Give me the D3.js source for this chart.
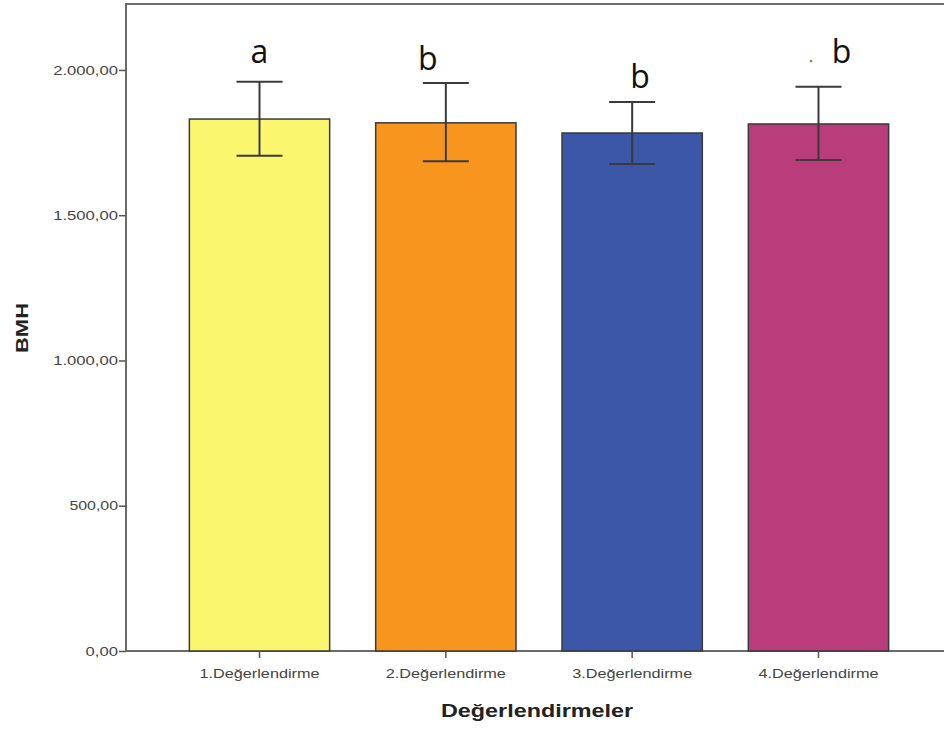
<!DOCTYPE html>
<html><head><meta charset="utf-8">
<script src="https://cdn.jsdelivr.net/npm/d3@7"></script>
<style>body{margin:0;background:#fff}svg{display:block}</style>
</head><body>
<script>
const categories = ["1.Değerlendirme","2.Değerlendirme","3.Değerlendirme","4.Değerlendirme"];
const means = [1831, 1818, 1783, 1814];
const errLow = [1705, 1686, 1676, 1690];
const errHigh = [1959, 1955, 1890, 1942];
const letters = ["a","b","b","b"];
const colors = ["#FAF66E","#F7951E","#3C56A8","#B93D7B"];
const yTicks = [0,500,1000,1500,2000];

(function(){
const W=944,H=731;
const svg=d3.select("body").append("svg").attr("width",W).attr("height",H);
const pLeft=126, pTop=4, pBottom=651;
const y=d3.scaleLinear().domain([0,2227]).range([pBottom,pTop]);
const x=d3.scaleBand().domain(categories).range([167,911]).paddingInner(0.247).paddingOuter(0.12);
const ff="Liberation Sans, Arial, sans-serif";

// frame
svg.append("path").attr("d",`M${pLeft},${pBottom}V${pTop}H${W+5}`).attr("fill","none").attr("stroke","#6b6b6b").attr("stroke-width",2);
svg.append("line").attr("x1",pLeft).attr("x2",W+5).attr("y1",pBottom).attr("y2",pBottom).attr("stroke","#6b6b6b").attr("stroke-width",2);

// y axis
const fmt=v=>d3.format(",.2f")(v).replace(/,/g,"#").replace(".",",").replace(/#/g,".");
const ya=svg.append("g").attr("transform",`translate(${pLeft},0)`).call(d3.axisLeft(y).tickValues(yTicks).tickFormat(fmt).tickSize(7).tickPadding(1));
ya.select(".domain").remove();
ya.selectAll(".tick line").attr("stroke","#555").attr("stroke-width",1.5);
ya.selectAll(".tick text").attr("fill","#444").style("font-family",ff).style("font-size","13px")
  .attr("textLength",d=>fmt(d).length*8.1).attr("lengthAdjust","spacingAndGlyphs");

// bars
svg.selectAll("rect.bar").data(categories).enter().append("rect")
 .attr("x",d=>x(d)).attr("width",x.bandwidth())
 .attr("y",(d,i)=>y(means[i])).attr("height",(d,i)=>pBottom-y(means[i]))
 .attr("fill",(d,i)=>colors[i]).attr("stroke","#3a3a3a").attr("stroke-width",1.5);

// x axis
const xa=svg.append("g").attr("transform",`translate(0,${pBottom})`).call(d3.axisBottom(x).tickSize(7).tickPadding(11));
xa.select(".domain").remove();
xa.selectAll(".tick line").attr("stroke","#555").attr("stroke-width",1.5);
xa.selectAll(".tick text").attr("fill","#444").style("font-family",ff).style("font-size","13px")
  .attr("textLength",120).attr("lengthAdjust","spacingAndGlyphs");

// error bars
const cap=23;
const eb=svg.append("g").attr("stroke","#3a3a3a").attr("stroke-width",2);
categories.forEach((c,i)=>{
  const cx=x(c)+x.bandwidth()/2;
  eb.append("line").attr("x1",cx).attr("x2",cx).attr("y1",y(errHigh[i])).attr("y2",y(errLow[i]));
  eb.append("line").attr("x1",cx-cap).attr("x2",cx+cap).attr("y1",y(errHigh[i])).attr("y2",y(errHigh[i]));
  eb.append("line").attr("x1",cx-cap).attr("x2",cx+cap).attr("y1",y(errLow[i])).attr("y2",y(errLow[i]));
});

// significance letters
const letterDx=[0,-18,8,23];
const letterBase=[63,70,88,63];
svg.selectAll("text.sig").data(letters).enter().append("text")
 .attr("x",(d,i)=>x(categories[i])+x.bandwidth()/2+letterDx[i]).attr("y",(d,i)=>letterBase[i])
 .attr("text-anchor","middle").style("font-family","Open Sans, Liberation Sans, sans-serif").style("font-size","32px").style("font-weight","500").attr("fill","#111").text(d=>d);
svg.append("circle").attr("cx",811).attr("cy",61).attr("r",1.3).attr("fill","#c0703a");

// axis titles
svg.append("text").attr("transform",`translate(28,328) rotate(-90)`).attr("text-anchor","middle")
 .style("font-family",ff).style("font-weight","bold").style("font-size","17px").attr("fill","#222")
 .attr("textLength",50).attr("lengthAdjust","spacingAndGlyphs").text("BMH");
svg.append("text").attr("x",537).attr("y",717).attr("text-anchor","middle")
 .style("font-family",ff).style("font-weight","bold").style("font-size","18px").attr("fill","#222")
 .attr("textLength",192).attr("lengthAdjust","spacingAndGlyphs").text("Değerlendirmeler");
})();
</script>
</body></html>
